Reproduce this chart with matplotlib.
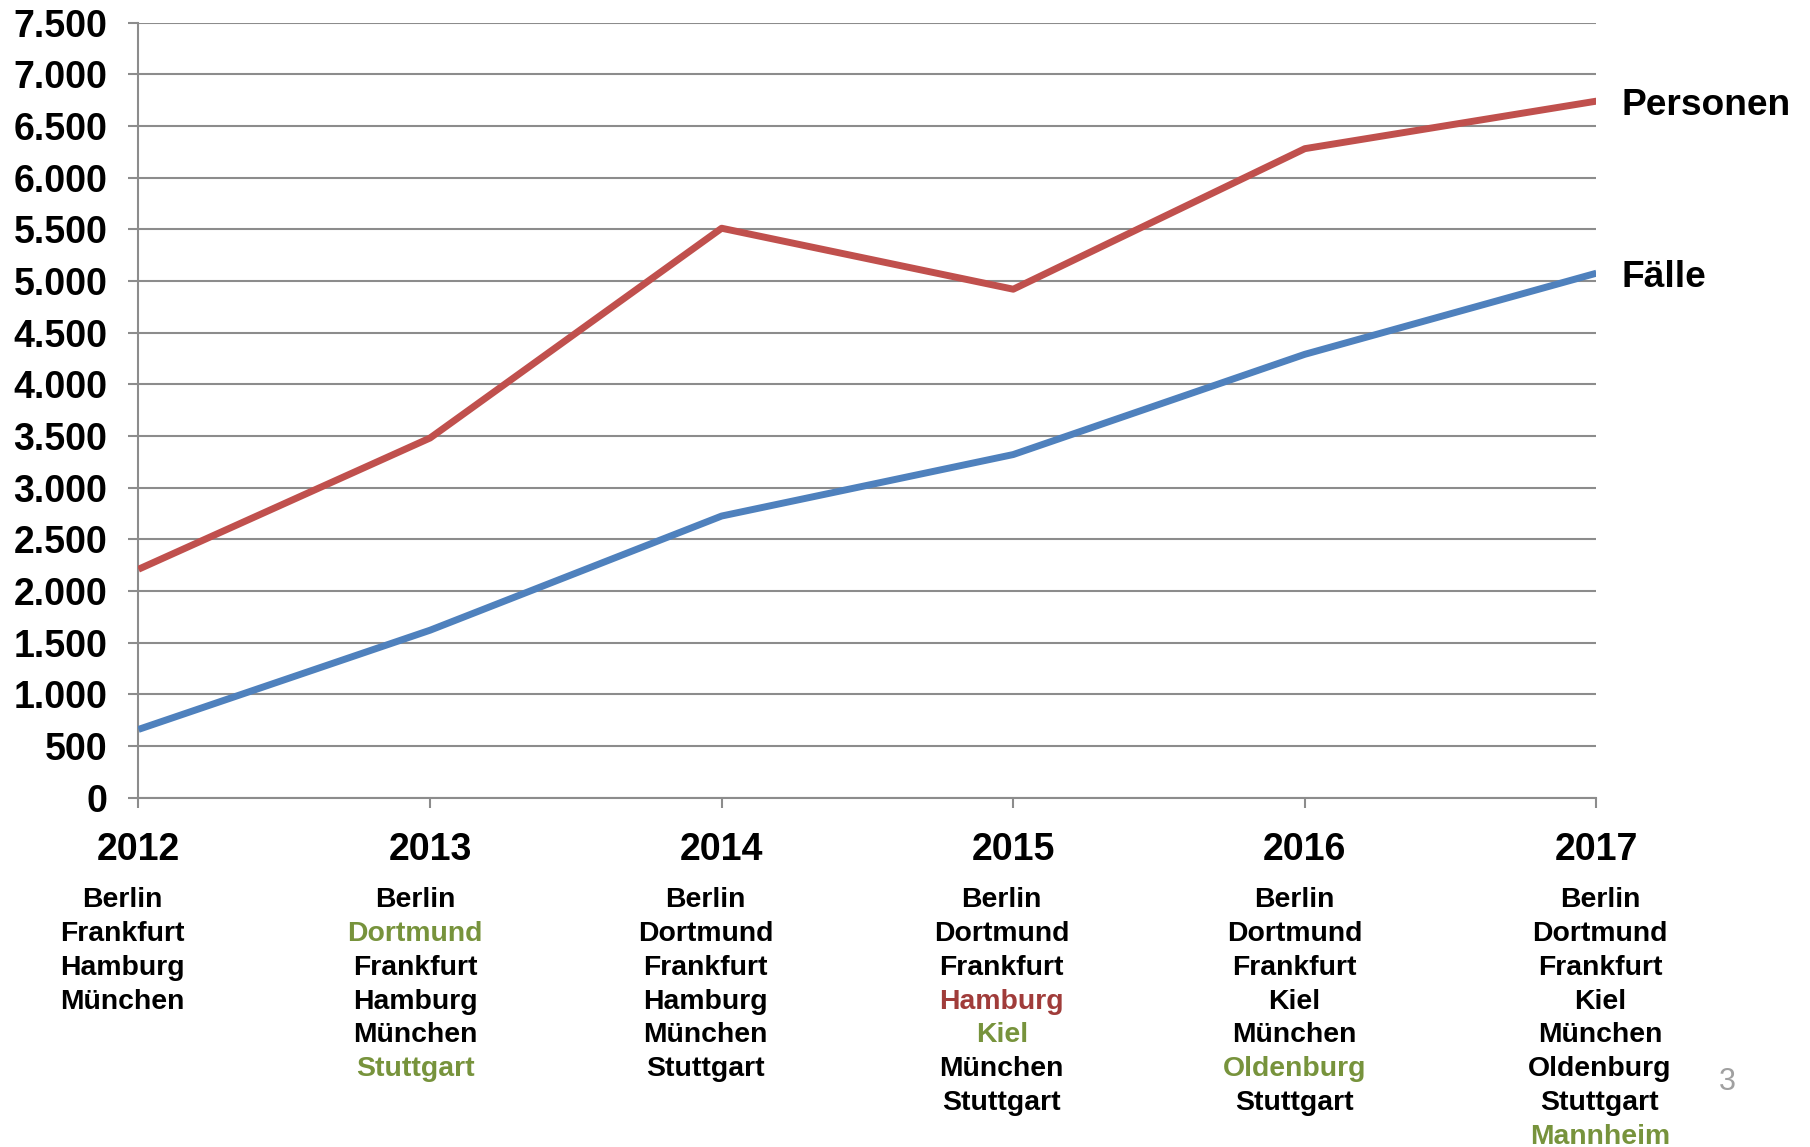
import matplotlib

matplotlib.use("Agg")
import matplotlib.pyplot as plt

# Data
years = [2012, 2013, 2014, 2015, 2016, 2017]
personen = [2210, 3480, 5510, 4920, 6280, 6740]
faelle = [660, 1620, 2725, 3320, 4290, 5075]

cities = [
    ["Berlin", "Frankfurt", "Hamburg", "München"],
    ["Berlin", "Dortmund", "Frankfurt", "Hamburg", "München", "Stuttgart"],
    ["Berlin", "Dortmund", "Frankfurt", "Hamburg", "München", "Stuttgart"],
    ["Berlin", "Dortmund", "Frankfurt", "Hamburg", "Kiel", "München", "Stuttgart"],
    ["Berlin", "Dortmund", "Frankfurt", "Kiel", "München", "Oldenburg", "Stuttgart"],
    ["Berlin", "Dortmund", "Frankfurt", "Kiel", "München", "Oldenburg", "Stuttgart", "Mannheim"],
]
# new city in that year (green) / dropped afterwards (red)
new_cities = [[], ["Dortmund", "Stuttgart"], [], ["Kiel"], ["Oldenburg"], ["Mannheim"]]
dropped_cities = [[], [], [], ["Hamburg"], [], []]

RED = "#C0504D"
BLUE = "#4F81BD"
GREEN = "#77933C"
DARKRED = "#A03C3A"
GRID = "#8C8C8C"
FONT = ["Liberation Sans", "DejaVu Sans"]

plt.rcParams["font.family"] = FONT
plt.rcParams["font.weight"] = "bold"

fig = plt.figure(figsize=(18.1, 11.47), dpi=100)
ax = fig.add_axes([0.0765, 0.3046, 0.8055, 0.6757])

ax.plot(years, personen, color=RED, lw=5, solid_capstyle="butt", zorder=3)
ax.plot(years, faelle, color=BLUE, lw=5, solid_capstyle="butt", zorder=3)

ax.set_xlim(years[0], years[-1])
ax.set_ylim(0, 7500)
yticks = list(range(0, 7501, 500))
ax.set_yticks(yticks)
ax.set_yticklabels([f"{v:,}".replace(",", ".") for v in yticks])
ax.set_xticks(years)
ax.set_xticklabels([str(y) for y in years])
ax.grid(True, axis="y", color=GRID, lw=1.5)
ax.set_axisbelow(True)

for side in ["top", "right"]:
    ax.spines[side].set_visible(False)
for side in ["left", "bottom"]:
    ax.spines[side].set_color(GRID)
    ax.spines[side].set_linewidth(1.5)

ax.tick_params(axis="y", length=7, width=1.5, color=GRID, pad=15.5, labelsize=27)
ax.tick_params(axis="x", length=7, width=1.5, color=GRID, pad=18, labelsize=27)

# series labels at the right end
ax.annotate("Personen", xy=(years[-1], personen[-1]), xytext=(18, -3),
            textcoords="offset points", va="center", ha="left", fontsize=26.7,
            annotation_clip=False)
ax.annotate("Fälle", xy=(years[-1], faelle[-1]), xytext=(18, -3),
            textcoords="offset points", va="center", ha="left", fontsize=26.7,
            annotation_clip=False)

# city lists under each year
x_offsets = [-11.6, -10.8, -11.6, -8.3, -7.5, 2.5]
for year, names, new, dropped, dx in zip(years, cities, new_cities, dropped_cities, x_offsets):
    for i, name in enumerate(names):
        color = GREEN if name in new else DARKRED if name in dropped else "black"
        ax.annotate(name, xy=(year, 0), xycoords=("data", "axes fraction"),
                    xytext=(dx, -74 - 24.3 * i), textcoords="offset points",
                    ha="center", va="center", fontsize=20.4, color=color,
                    annotation_clip=False)

fig.text(0.9545, 0.0567, "3", color="#A0A0A0", fontsize=22, fontweight="normal",
         ha="center", va="center")

fig.savefig("out.png", dpi=100)
